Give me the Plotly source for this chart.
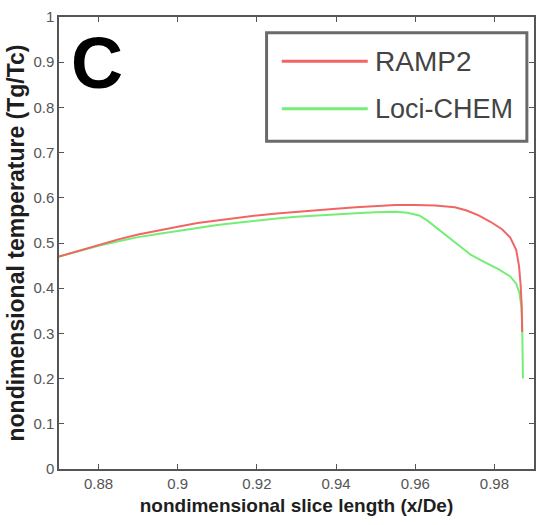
import plotly.graph_objects as go

# Nondimensional gas temperature along the slice, two solvers
ramp2_x = [0.870, 0.875, 0.880, 0.885, 0.890, 0.895, 0.900, 0.905, 0.910, 0.915,
           0.920, 0.925, 0.930, 0.935, 0.940, 0.945, 0.950, 0.955, 0.960, 0.965,
           0.970, 0.973, 0.976, 0.979, 0.982, 0.984, 0.9855, 0.9862, 0.9866, 0.9869, 0.9870]
ramp2_y = [0.470, 0.483, 0.496, 0.508, 0.519, 0.528, 0.536, 0.544, 0.550, 0.556,
           0.561, 0.565, 0.569, 0.573, 0.576, 0.579, 0.582, 0.584, 0.584, 0.583,
           0.579, 0.572, 0.561, 0.547, 0.530, 0.512, 0.485, 0.450, 0.410, 0.360, 0.303]

loci_x = [0.870, 0.875, 0.880, 0.885, 0.890, 0.895, 0.900, 0.905, 0.910, 0.915,
          0.920, 0.925, 0.930, 0.935, 0.940, 0.945, 0.950, 0.955, 0.958, 0.961,
          0.963, 0.965, 0.968, 0.971, 0.974, 0.977, 0.981, 0.984, 0.9855, 0.9863,
          0.9868, 0.9870, 0.9871, 0.9872]
loci_y = [0.470, 0.482, 0.494, 0.504, 0.513, 0.520, 0.527, 0.534, 0.540, 0.545,
          0.550, 0.554, 0.558, 0.561, 0.564, 0.566, 0.568, 0.569, 0.567, 0.561,
          0.550, 0.536, 0.515, 0.495, 0.474, 0.460, 0.442, 0.426, 0.410, 0.390,
          0.360, 0.330, 0.260, 0.200]

x_ticks = [0.88, 0.90, 0.92, 0.94, 0.96, 0.98]
x_labels = ["0.88", "0.9", "0.92", "0.94", "0.96", "0.98"]
y_ticks = [0, 0.1, 0.2, 0.3, 0.4, 0.5, 0.6, 0.7, 0.8, 0.9, 1]
y_labels = ["0", "0.1", "0.2", "0.3", "0.4", "0.5", "0.6", "0.7", "0.8", "0.9", "1"]

RED = "#f26565"
GREEN = "#74ee74"
FAMILY = "Liberation Sans, Arial, sans-serif"
TICK_FONT = dict(family=FAMILY, size=15, color="#555555")

fig = go.Figure()
fig.add_trace(go.Scatter(x=loci_x, y=loci_y, mode="lines", name="Loci-CHEM",
                         line=dict(color=GREEN, width=2), showlegend=False))
fig.add_trace(go.Scatter(x=ramp2_x, y=ramp2_y, mode="lines", name="RAMP2",
                         line=dict(color=RED, width=2), showlegend=False))

axis_common = dict(showline=True, linecolor="#555555", linewidth=1.5, mirror="ticks",
                   ticks="inside", ticklen=5, tickcolor="#555555", showgrid=False,
                   zeroline=False, tickfont=TICK_FONT)

fig.update_xaxes(range=[0.87, 0.99], tickvals=x_ticks, ticktext=x_labels,
                 title=dict(text="<b>nondimensional slice length (x/De)</b>",
                            font=dict(family=FAMILY, size=19, color="#1e1e1e"), standoff=8),
                 **axis_common)
fig.update_yaxes(range=[0, 1], tickvals=y_ticks, ticktext=y_labels,
                 title=dict(text="<b>nondimensional temperature (Tg/Tc)</b>",
                            font=dict(family=FAMILY, size=23, color="#1e1e1e"), standoff=2),
                 **axis_common)

# Panel letter
fig.add_annotation(x=0.080, y=0.898, xref="paper", yref="paper", xanchor="center", yanchor="middle",
                   text="<b>C</b>", showarrow=False,
                   font=dict(family=FAMILY, size=72, color="#000000"))

# Legend box drawn by hand (MATLAB style)
fig.add_shape(type="rect", xref="paper", yref="paper", x0=0.437, x1=0.985, y0=0.725, y1=0.965,
              line=dict(color="#6a6a6a", width=3), fillcolor="white", layer="above")
legend_items = [("RAMP2", RED, 0.902, 28), ("Loci-CHEM", GREEN, 0.797, 27)]
for label, color, yy, fsize in legend_items:
    fig.add_shape(type="line", xref="paper", yref="paper", x0=0.469, x1=0.65, y0=yy, y1=yy,
                  line=dict(color=color, width=3), layer="above")
    fig.add_annotation(x=0.660, y=yy, xref="paper", yref="paper", xanchor="left", yanchor="middle",
                       text=label, showarrow=False,
                       font=dict(family=FAMILY, size=fsize, color="#444444"))

fig.update_layout(width=537, height=525, margin=dict(l=59, r=1, t=17, b=56),
                  plot_bgcolor="white", paper_bgcolor="white", showlegend=False)

fig.write_html("out.html")
